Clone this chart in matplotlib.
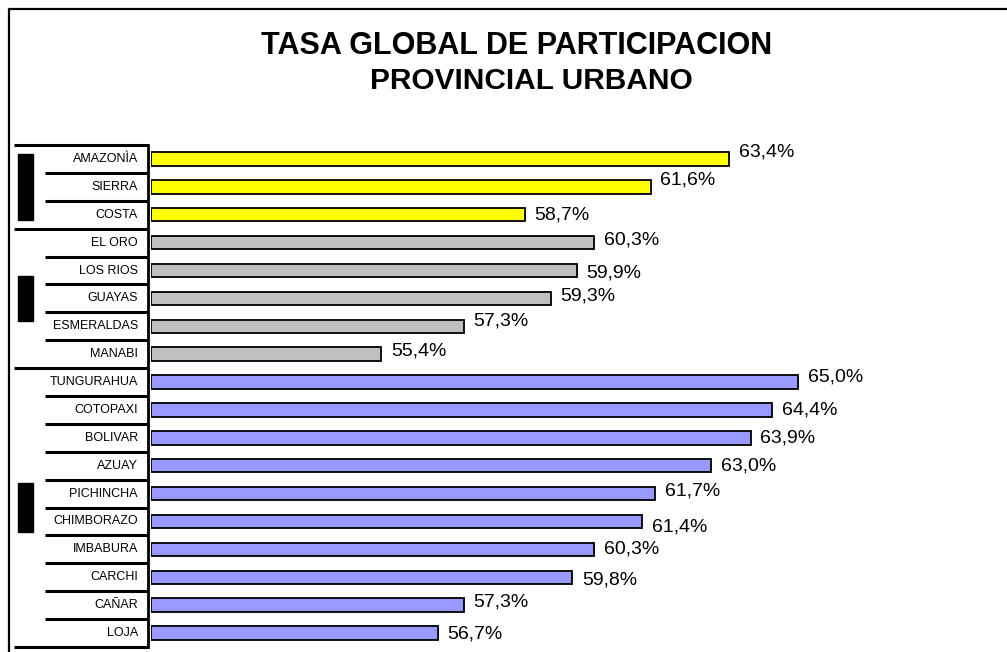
import matplotlib.pyplot as plt
from matplotlib.patches import Rectangle

plt.rcParams['font.family'] = ['Liberation Sans', 'DejaVu Sans']

# Tasa global de participacion, area urbana
provincias = ["AMAZONÌA", "SIERRA", "COSTA",
              "EL ORO", "LOS RIOS", "GUAYAS", "ESMERALDAS", "MANABI",
              "TUNGURAHUA", "COTOPAXI", "BOLIVAR", "AZUAY", "PICHINCHA",
              "CHIMBORAZO", "IMBABURA", "CARCHI", "CAÑAR", "LOJA"]
tasas = [63.4, 61.6, 58.7,
         60.3, 59.9, 59.3, 57.3, 55.4,
         65.0, 64.4, 63.9, 63.0, 61.7, 61.4, 60.3, 59.8, 57.3, 56.7]
etiquetas = ["63,4%", "61,6%", "58,7%",
             "60,3%", "59,9%", "59,3%", "57,3%", "55,4%",
             "65,0%", "64,4%", "63,9%", "63,0%", "61,7%", "61,4%",
             "60,3%", "59,8%", "57,3%", "56,7%"]
# filas por grupo: regiones, costa, sierra
grupos = [3, 5, 10]
colores_grupo = ["#FFFF00", "#C0C0C0", "#9999FF"]

# small vertical nudges of the value labels (points)
nudge = [5, 5, 0, 2, -2, 2, 4, 2, 4, 0, 0, 0, 2, -4, 0, -2, 2, -1]

W, H = 1007, 652
fig = plt.figure(figsize=(W / 100, H / 100), dpi=100)


def px_axes(x0, y0, x1, y1):
    return fig.add_axes([x0 / W, 1 - y1 / H, (x1 - x0) / W, (y1 - y0) / H])


colores = []
for g, n in enumerate(grupos):
    colores += [colores_grupo[g]] * n

n = len(provincias)
ypos = list(range(n))

# bar area
ax = px_axes(151, 145, 996, 647)
ax.barh(ypos, [t - 50.1 for t in tasas], left=50.1, height=0.48,
        color=colores, edgecolor="black", linewidth=1.3)
ax.set_xlim(50.1, 69.55)
ax.set_ylim(n - 0.5, -0.5)
ax.axis("off")
for y, t, lab, dy in zip(ypos, tasas, etiquetas, nudge):
    ax.annotate(lab, (t, y), xytext=(7, dy), textcoords="offset points",
                ha="left", va="center", fontsize=14)

# category panel on the left
axl = px_axes(9, 145, 151, 647)
axl.set_xlim(9, 151)
axl.set_ylim(n - 0.5, -0.5)
axl.axis("off")
axl.plot([148, 148], [-0.5, n - 0.5], color="black", lw=2, clip_on=False)
limites = [0]
for g in grupos:
    limites.append(limites[-1] + g)
for i in range(n + 1):
    x0 = 14 if i in limites else 45
    axl.plot([x0, 148], [i - 0.5, i - 0.5], color="black", lw=2.2,
             solid_capstyle="butt", clip_on=False)
for y, nombre in zip(ypos, provincias):
    axl.text(138, y, nombre, ha="right", va="center", fontsize=9)

# group markers
altos = [2.37, 1.6, 1.75]
for g in range(len(grupos)):
    centro = (limites[g] + limites[g + 1] - 1) / 2
    axl.add_patch(Rectangle((18, centro - altos[g] / 2), 15, altos[g],
                            color="black", clip_on=False))

# outer frame
frame = px_axes(0, 0, W, H)
frame.set_xlim(0, W)
frame.set_ylim(H, 0)
frame.axis("off")
frame.plot([8.5, 8.5, W + 5], [H + 5, 9, 9], color="black", lw=1.6)

fig.text(517 / W, 1 - 46 / H, "TASA GLOBAL DE PARTICIPACION",
         ha="center", va="center", fontsize=22, fontweight="bold")
fig.text(531 / W, 1 - 81 / H, "PROVINCIAL URBANO",
         ha="center", va="center", fontsize=21.5, fontweight="bold")

fig.savefig("out.png", dpi=100)
